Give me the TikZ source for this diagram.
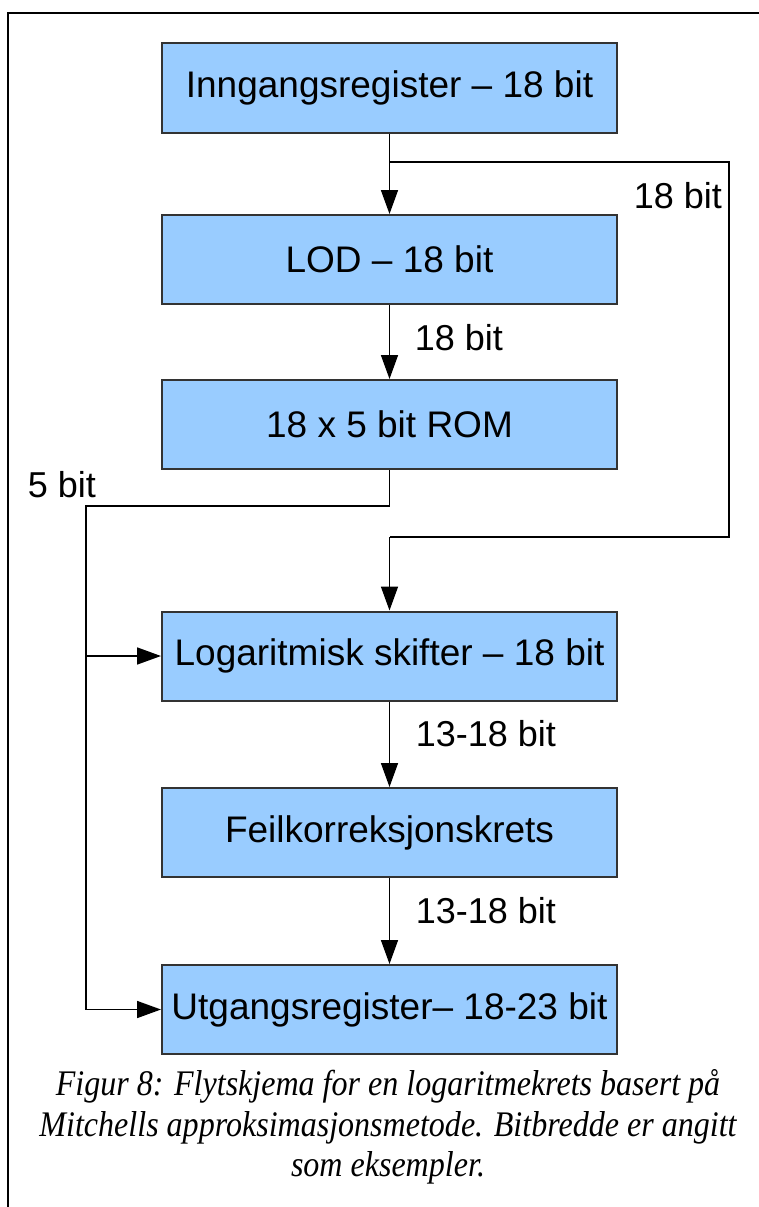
\documentclass[tikz,border=0pt]{standalone}
\usepackage{graphicx}
\usepackage{fontspec}
\setmainfont{Liberation Sans}
\newfontfamily\capfont{Liberation Serif}
\usetikzlibrary{arrows.meta}
\definecolor{boxfill}{HTML}{99CCFF}
\definecolor{boxline}{HTML}{333333}
\tikzset{
  stage/.style={draw=boxline, line width=2pt, fill=boxfill, minimum width=455pt,
    minimum height=89pt, inner sep=0pt, font=\fontsize{37}{44}\selectfont},
  wire/.style={line width=1.6pt, draw=black},
  flow/.style={wire, -{Triangle[length=24pt,width=17pt]}},
  bits/.style={font=\fontsize{36}{43}\selectfont, inner sep=0pt},
  frameline/.style={line width=2pt}
}
\begin{document}
\begin{tikzpicture}[x=1pt,y=-1pt]
\useasboundingbox (0,0) rectangle (759,1207);
% outer frame (top and left edges)
\draw[frameline] (759,13) -- (8,13) -- (8,1207);

% processing stages
\node[stage] (inn) at (389.5,88) {Inngangsregister – 18 bit};
\node[stage] (lod) at (389.5,259.5) {LOD – 18 bit};
\node[stage] (rom) at (389.5,424.5) {18 x 5 bit ROM};
\node[stage] (log) at (389.5,656) {Logaritmisk skifter – 18 bit};
\node[stage] (fk)  at (389.5,832.5) {Feilkorreksjonskrets};
\node[stage] (utg) at (389.5,1009.5) {Utgangsregister– 18-23 bit};

% routing points
\coordinate (split) at (389.5,162);
\coordinate (rt) at (729,162);
\coordinate (rb) at (729,537);
\coordinate (rm) at (389.5,537);
\coordinate (romd) at (389.5,506);
\coordinate (lt) at (86,506);
\coordinate (lm) at (86,656);
\coordinate (lb) at (86,1009.5);

% main chain
\draw[flow] (inn.south) -- (lod.north);
\draw[flow] (lod.south) -- (rom.north);
\draw[flow] (log.south) -- (fk.north);
\draw[flow] (fk.south) -- (utg.north);

% bypass of the input word to the shifter
\draw[wire] (split) -- (rt) -- (rb) -- (rm);
\draw[flow] (rm) -- (log.north);

% ROM output to shifter and output register
\draw[wire] (rom.south) -- (romd) -- (lt) -- (lb);
\draw[flow] (lb) -- (utg.west);
\draw[flow] (lm) -- (log.west);

% bit-width labels
\node[bits] (b1) at (678,196) {18 bit};
\node[bits] (b2) at (459,338) {18 bit};
\node[bits] (b3) at (62,485) {5 bit};
\node[bits] (b4) at (486,734) {13-18 bit};
\node[bits] (b5) at (486,911) {13-18 bit};

% caption, set in a narrow italic serif
\node[inner sep=0pt] (cap) at (388,1128)
  {\scalebox{0.89}[1]{\capfont\itshape\fontsize{36}{40.5}\selectfont
   \begin{tabular}{@{}c@{}}
   Figur 8: Flytskjema for en logaritmekrets basert på\\
   Mitchells approksimasjonsmetode. Bitbredde er angitt\\
   som eksempler.
   \end{tabular}}};
\end{tikzpicture}
\end{document}
